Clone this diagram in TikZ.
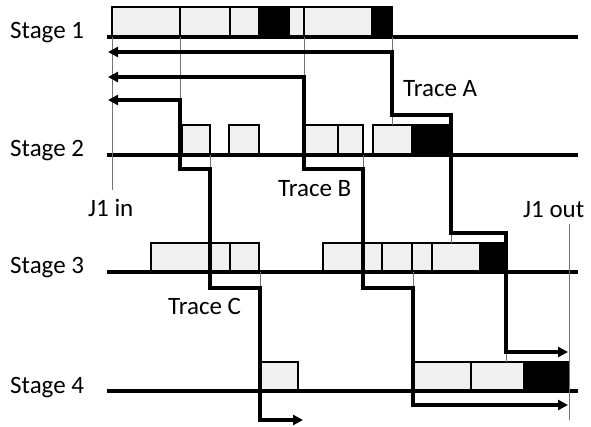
\documentclass[tikz,border=0pt]{standalone}
\usepackage{fontspec}
\setmainfont{Carlito}
\usepackage{tikz}
\usetikzlibrary{arrows.meta}
\tikzset{
  job/.style={draw,line width=1.5pt,fill=black!6},
  hold/.style={draw,line width=1.5pt,fill=black},
  stg/.style={line width=3.2pt},
  trc/.style={line width=3.2pt,line join=miter,{Triangle[length=10pt,width=10pt]}-{Triangle[length=10pt,width=10pt]}},
  gd/.style={line width=1pt,black!55},
  lbl/.style={anchor=base west,inner sep=0pt,font=\fontsize{25}{30}\selectfont}
}

\begin{document}
\begin{tikzpicture}[x=1pt,y=-1pt]
\useasboundingbox (0,0) rectangle (591,427);
% stage 1
\draw[job] (112,7) rectangle (180,37); \draw[job] (180,7) rectangle (230,37); \draw[job] (230,7) rectangle (259,37);
\draw[hold] (259,7) rectangle (289,37); \draw[job] (289,7) rectangle (304,37); \draw[job] (304,7) rectangle (372,37);
\draw[hold] (372,7) rectangle (392,37);
% stage 2
\draw[job] (182,125) rectangle (210,155); \draw[job] (229,125) rectangle (259,155); \draw[job] (304,125) rectangle (338,155);
\draw[job] (338,125) rectangle (363,155); \draw[job] (373,125) rectangle (412,155); \draw[hold] (412,125) rectangle (452,155);
% stage 3
\draw[job] (151,243) rectangle (211,272); \draw[job] (211,243) rectangle (230,272); \draw[job] (230,243) rectangle (259,272);
\draw[job] (323,243) rectangle (363,272); \draw[job] (363,243) rectangle (382,272); \draw[job] (382,243) rectangle (412,272);
\draw[job] (412,243) rectangle (432,272); \draw[job] (432,243) rectangle (480,272); \draw[hold] (480,243) rectangle (506,272);
% stage 4
\draw[job] (260,362) rectangle (298,391); \draw[job] (412,362) rectangle (471,391); \draw[job] (471,362) rectangle (524,391);
\draw[hold] (524,362) rectangle (569,391);
% stage lines and labels
\node[lbl] (s1) at (10,39) {Stage 1}; \draw[stg] (107,37) -- (578,37);
\node[lbl] (s2) at (10,157) {Stage 2}; \draw[stg] (107,155) -- (578,155);
\node[lbl] (s3) at (10,274) {Stage 3}; \draw[stg] (107,272) -- (578,272);
\node[lbl] (s4) at (10,393) {Stage 4}; \draw[stg] (107,391) -- (578,391);
% thin guides
\draw[gd] (112,37) -- (112,190); \draw[gd] (180,37) -- (180,125); \draw[gd] (304,37) -- (304,125); \draw[gd] (392,37) -- (392,52);
\draw[gd] (392,115) -- (392,125); \draw[gd] (210,155) -- (210,169); \draw[gd] (363,155) -- (363,169);
\draw[gd] (451,233) -- (451,243); \draw[gd] (260,272) -- (260,288); \draw[gd] (413,272) -- (413,288);
\draw[gd] (506,352) -- (506,362); \draw[gd] (569,224) -- (569,420);
\node[lbl] (jin) at (88,217) {J1 in};
\node[lbl] (jout) at (523,218) {J1 out};
% traces
\draw[trc] (108,52) -- (392,52) -- (392,115) -- (451,115) -- (451,233) -- (506,233) -- (506,352) -- (568,352);
\draw[trc] (108,77) -- (304,77) -- (304,169) -- (363,169) -- (363,288) -- (413,288) -- (413,405) -- (568,405);
\draw[trc] (108,100) -- (180,100) -- (180,169) -- (210,169) -- (210,288) -- (260,288) -- (260,420) -- (303,420);
\node[lbl] (ta) at (403,97) {Trace A};
\node[lbl] (tb) at (278,197) {Trace B};
\node[lbl] (tc) at (168,315) {Trace C};
\end{tikzpicture}
\end{document}
